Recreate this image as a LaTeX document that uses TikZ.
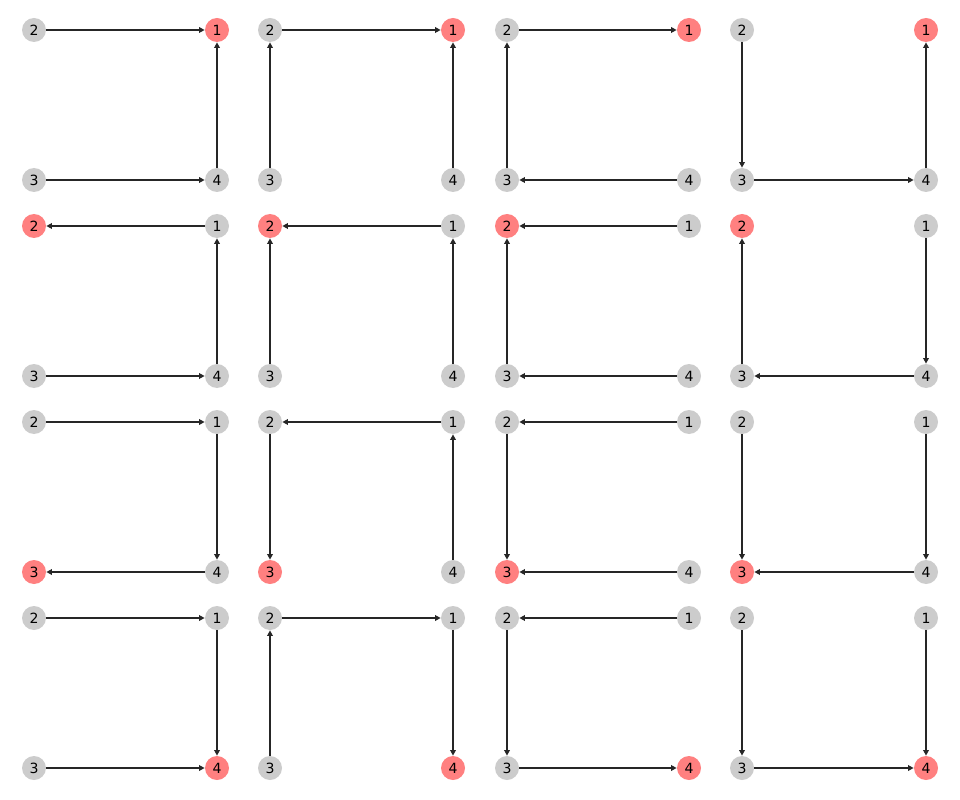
\documentclass[tikz,border=0pt]{standalone}
\usepackage{fontspec}
\setmainfont{DejaVu Sans}
\usetikzlibrary{arrows.meta}
\definecolor{nodegray}{HTML}{CCCCCC}
\definecolor{goalred}{HTML}{FF8080}

\begin{document}
\begin{tikzpicture}[
  vtx/.style={circle,fill=nodegray,minimum size=0.48cm,inner sep=0pt,font=\fontsize{8}{9}\selectfont},
  goal/.style={vtx,fill=goalred},
  edge/.style={-{Triangle[length=3.2pt,width=3.2pt]},line width=0.8pt,black!85}]
\useasboundingbox (0,0) rectangle (19.2,-16);
\node[vtx] (g11n2) at (0.680,-0.600) {2};
\node[goal] (g11n1) at (4.340,-0.600) {1};
\node[vtx] (g11n3) at (0.680,-3.600) {3};
\node[vtx] (g11n4) at (4.340,-3.600) {4};
\draw[edge] (g11n2) -- (g11n1);
\draw[edge] (g11n3) -- (g11n4);
\draw[edge] (g11n4) -- (g11n1);
\node[vtx] (g12n2) at (5.400,-0.600) {2};
\node[goal] (g12n1) at (9.060,-0.600) {1};
\node[vtx] (g12n3) at (5.400,-3.600) {3};
\node[vtx] (g12n4) at (9.060,-3.600) {4};
\draw[edge] (g12n2) -- (g12n1);
\draw[edge] (g12n3) -- (g12n2);
\draw[edge] (g12n4) -- (g12n1);
\node[vtx] (g13n2) at (10.140,-0.600) {2};
\node[goal] (g13n1) at (13.780,-0.600) {1};
\node[vtx] (g13n3) at (10.140,-3.600) {3};
\node[vtx] (g13n4) at (13.780,-3.600) {4};
\draw[edge] (g13n2) -- (g13n1);
\draw[edge] (g13n3) -- (g13n2);
\draw[edge] (g13n4) -- (g13n3);
\node[vtx] (g14n2) at (14.840,-0.600) {2};
\node[goal] (g14n1) at (18.520,-0.600) {1};
\node[vtx] (g14n3) at (14.840,-3.600) {3};
\node[vtx] (g14n4) at (18.520,-3.600) {4};
\draw[edge] (g14n2) -- (g14n3);
\draw[edge] (g14n3) -- (g14n4);
\draw[edge] (g14n4) -- (g14n1);
\node[goal] (g21n2) at (0.680,-4.520) {2};
\node[vtx] (g21n1) at (4.340,-4.520) {1};
\node[vtx] (g21n3) at (0.680,-7.520) {3};
\node[vtx] (g21n4) at (4.340,-7.520) {4};
\draw[edge] (g21n1) -- (g21n2);
\draw[edge] (g21n3) -- (g21n4);
\draw[edge] (g21n4) -- (g21n1);
\node[goal] (g22n2) at (5.400,-4.520) {2};
\node[vtx] (g22n1) at (9.060,-4.520) {1};
\node[vtx] (g22n3) at (5.400,-7.520) {3};
\node[vtx] (g22n4) at (9.060,-7.520) {4};
\draw[edge] (g22n1) -- (g22n2);
\draw[edge] (g22n3) -- (g22n2);
\draw[edge] (g22n4) -- (g22n1);
\node[goal] (g23n2) at (10.140,-4.520) {2};
\node[vtx] (g23n1) at (13.780,-4.520) {1};
\node[vtx] (g23n3) at (10.140,-7.520) {3};
\node[vtx] (g23n4) at (13.780,-7.520) {4};
\draw[edge] (g23n1) -- (g23n2);
\draw[edge] (g23n3) -- (g23n2);
\draw[edge] (g23n4) -- (g23n3);
\node[goal] (g24n2) at (14.840,-4.520) {2};
\node[vtx] (g24n1) at (18.520,-4.520) {1};
\node[vtx] (g24n3) at (14.840,-7.520) {3};
\node[vtx] (g24n4) at (18.520,-7.520) {4};
\draw[edge] (g24n1) -- (g24n4);
\draw[edge] (g24n3) -- (g24n2);
\draw[edge] (g24n4) -- (g24n3);
\node[vtx] (g31n2) at (0.680,-8.440) {2};
\node[vtx] (g31n1) at (4.340,-8.440) {1};
\node[goal] (g31n3) at (0.680,-11.440) {3};
\node[vtx] (g31n4) at (4.340,-11.440) {4};
\draw[edge] (g31n2) -- (g31n1);
\draw[edge] (g31n1) -- (g31n4);
\draw[edge] (g31n4) -- (g31n3);
\node[vtx] (g32n2) at (5.400,-8.440) {2};
\node[vtx] (g32n1) at (9.060,-8.440) {1};
\node[goal] (g32n3) at (5.400,-11.440) {3};
\node[vtx] (g32n4) at (9.060,-11.440) {4};
\draw[edge] (g32n1) -- (g32n2);
\draw[edge] (g32n2) -- (g32n3);
\draw[edge] (g32n4) -- (g32n1);
\node[vtx] (g33n2) at (10.140,-8.440) {2};
\node[vtx] (g33n1) at (13.780,-8.440) {1};
\node[goal] (g33n3) at (10.140,-11.440) {3};
\node[vtx] (g33n4) at (13.780,-11.440) {4};
\draw[edge] (g33n1) -- (g33n2);
\draw[edge] (g33n2) -- (g33n3);
\draw[edge] (g33n4) -- (g33n3);
\node[vtx] (g34n2) at (14.840,-8.440) {2};
\node[vtx] (g34n1) at (18.520,-8.440) {1};
\node[goal] (g34n3) at (14.840,-11.440) {3};
\node[vtx] (g34n4) at (18.520,-11.440) {4};
\draw[edge] (g34n2) -- (g34n3);
\draw[edge] (g34n1) -- (g34n4);
\draw[edge] (g34n4) -- (g34n3);
\node[vtx] (g41n2) at (0.680,-12.360) {2};
\node[vtx] (g41n1) at (4.340,-12.360) {1};
\node[vtx] (g41n3) at (0.680,-15.360) {3};
\node[goal] (g41n4) at (4.340,-15.360) {4};
\draw[edge] (g41n2) -- (g41n1);
\draw[edge] (g41n1) -- (g41n4);
\draw[edge] (g41n3) -- (g41n4);
\node[vtx] (g42n2) at (5.400,-12.360) {2};
\node[vtx] (g42n1) at (9.060,-12.360) {1};
\node[vtx] (g42n3) at (5.400,-15.360) {3};
\node[goal] (g42n4) at (9.060,-15.360) {4};
\draw[edge] (g42n2) -- (g42n1);
\draw[edge] (g42n3) -- (g42n2);
\draw[edge] (g42n1) -- (g42n4);
\node[vtx] (g43n2) at (10.140,-12.360) {2};
\node[vtx] (g43n1) at (13.780,-12.360) {1};
\node[vtx] (g43n3) at (10.140,-15.360) {3};
\node[goal] (g43n4) at (13.780,-15.360) {4};
\draw[edge] (g43n1) -- (g43n2);
\draw[edge] (g43n2) -- (g43n3);
\draw[edge] (g43n3) -- (g43n4);
\node[vtx] (g44n2) at (14.840,-12.360) {2};
\node[vtx] (g44n1) at (18.520,-12.360) {1};
\node[vtx] (g44n3) at (14.840,-15.360) {3};
\node[goal] (g44n4) at (18.520,-15.360) {4};
\draw[edge] (g44n2) -- (g44n3);
\draw[edge] (g44n1) -- (g44n4);
\draw[edge] (g44n3) -- (g44n4);
\end{tikzpicture}
\end{document}
